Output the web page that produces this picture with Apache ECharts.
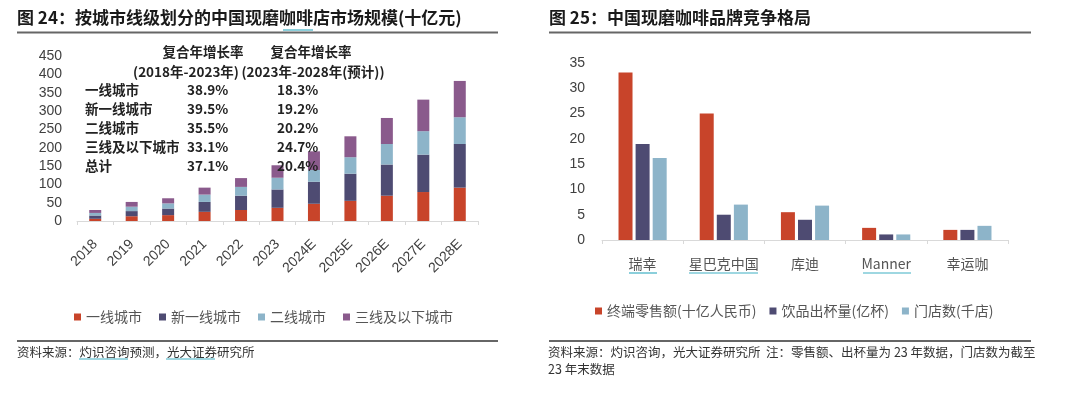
<!DOCTYPE html>
<html>
<head>
<meta charset="utf-8">
<script src="https://cdn.jsdelivr.net/npm/echarts@6/dist/echarts.min.js"></script>
<style>
html,body{margin:0;padding:0;background:#fff;}
#chart{width:1080px;height:398px;}
</style>
</head>
<body>
<div id="chart"></div>
<script>
// ---- Left chart data (十亿元) ----
const years = ['2018','2019','2020','2021','2022','2023','2024E','2025E','2026E','2027E','2028E'];
const tierNames = ['一线城市','新一线城市','二线城市','三线及以下城市'];
const tier1 =    [6, 13, 16, 25, 30, 36, 47, 55, 69, 79, 91];
const newTier1 = [9, 14, 18, 27, 39, 50, 60, 74, 85, 102, 119];
const tier2 =    [7, 12, 14, 20, 24, 32, 32, 45, 56, 64, 73];
const tier3 =    [8, 13, 14, 19, 24, 34, 51, 57, 71, 86, 99];
const leftTicks = [0, 450, 50]; // min, max, interval

// CAGR annotation table
const cagrHeaders = ['复合年增长率', '复合年增长率'];
const cagrPeriods = ['(2018年-2023年)', '(2023年-2028年(预计))'];
const cagrRows = ['一线城市','新一线城市','二线城市','三线及以下城市','总计'];
const cagr1823 = ['38.9%','39.5%','35.5%','33.1%','37.1%'];
const cagr2328 = ['18.3%','19.2%','20.2%','24.7%','20.4%'];

// ---- Right chart data ----
const brands = ['瑞幸','星巴克中国','库迪','Manner','幸运咖'];
const brandSeriesNames = ['终端零售额(十亿人民币)','饮品出杯量(亿杯)','门店数(千店)'];
const retailSales = [33.1, 25.0, 5.5, 2.4, 2.0];
const cupsSold =    [19.0, 5.0, 4.0, 1.1, 2.0];
const storeCount =  [16.2, 7.0, 6.8, 1.1, 2.8];
const rightTicks = [0, 35, 5];

// ---- Texts ----
const title24 = '图 24：按城市线级划分的中国现磨咖啡店市场规模(十亿元)';
const title25 = '图 25：中国现磨咖啡品牌竞争格局';
const source24 = '资料来源：灼识咨询预测，光大证券研究所';
const source25a = '资料来源：灼识咨询，光大证券研究所  注：零售额、出杯量为 23 年数据，门店数为截至';
const source25b = '23 年末数据';

const C_RED = '#C8442A', C_DARK = '#4E4B72', C_LIGHT = '#8DB4C9', C_PURPLE = '#8A5A8C';
const CJK = '"Noto Sans CJK SC", "Noto Sans", sans-serif';
const LAT = '"Liberation Sans", Arial, sans-serif';

const chart = echarts.init(document.getElementById('chart'), null, {renderer: 'canvas'});

const leftData = [tier1, newTier1, tier2, tier3];
const leftColors = [C_RED, C_DARK, C_LIGHT, C_PURPLE];
const rightData = [retailSales, cupsSold, storeCount];
const rightColors = [C_RED, C_DARK, C_LIGHT];

const series = [];
leftData.forEach((d, i) => {
  series.push({
    name: tierNames[i], type: 'bar', stack: 'city', xAxisIndex: 0, yAxisIndex: 0,
    data: d, barWidth: 12, itemStyle: {color: leftColors[i]}, emphasis: {disabled: true}
  });
});
rightData.forEach((d, i) => {
  series.push({
    name: brandSeriesNames[i], type: 'bar', xAxisIndex: 1, yAxisIndex: 1,
    data: d, barWidth: 14, barGap: '22%', itemStyle: {color: rightColors[i]}, emphasis: {disabled: true}
  });
});

// Graphic elements: titles, rules, annotation table, sources
const graphics = [];
function txt(x, y, s, opt) {
  graphics.push({
    type: 'text', x: x, y: y, z: 100, silent: true,
    style: Object.assign({text: s, fill: '#222', font: '13px ' + CJK, textAlign: 'left', textVerticalAlign: 'middle'}, opt || {})
  });
}
function rule(x1, x2, y, w, c) {
  graphics.push({type: 'line', z: 100, silent: true, shape: {x1: x1, y1: y, x2: x2, y2: y}, style: {stroke: c, lineWidth: w}});
}
function uline(x1, x2, y) {
  graphics.push({type: 'line', z: 100, silent: true, shape: {x1: x1, y1: y, x2: x2, y2: y}, style: {stroke: '#3FB0C4', lineWidth: 1.2}});
}
txt(17, 18, title24, {font: 'bold 17px ' + CJK, fill: '#1a1a1a'});
txt(549, 18, title25, {font: 'bold 17px ' + CJK, fill: '#1a1a1a'});
rule(17, 498, 32.5, 2, '#666');
rule(549, 1031, 32.5, 2, '#666');
rule(17, 498, 341, 1.5, '#333');
rule(549, 1031, 341, 1.5, '#333');
txt(17, 352, source24, {font: '12.5px ' + CJK, fill: '#333'});
txt(548, 352, source25a, {font: '12.5px ' + CJK, fill: '#333'});
txt(548, 369, source25b, {font: '12.5px ' + CJK, fill: '#333'});
// spell-check style underlines in the original
uline(283, 313, 30);
uline(79, 128, 359);
uline(166, 215, 359);
uline(629, 657, 273);
uline(689, 758, 273);
uline(863, 911, 273);

// CAGR table
const annFont = 'bold 13.5px ' + CJK;
txt(203, 52, cagrHeaders[0], {font: annFont, textAlign: 'center'});
txt(311, 52, cagrHeaders[1], {font: annFont, textAlign: 'center'});
txt(186, 72, cagrPeriods[0], {font: annFont, textAlign: 'center'});
txt(313, 72, cagrPeriods[1], {font: annFont, textAlign: 'center'});
cagrRows.forEach((r, i) => {
  const y = 89.5 + i * 19.1;
  txt(85, y, r, {font: annFont});
  txt(187, y, cagr1823[i], {font: annFont});
  txt(277, y, cagr2328[i], {font: annFont});
});

const option = {
  animation: false,
  backgroundColor: '#fff',
  grid: [
    {left: 77, width: 401, top: 56, bottom: 177, outerBoundsMode: 'none', containLabel: false},
    {left: 602, width: 406, top: 63, bottom: 158, outerBoundsMode: 'none', containLabel: false}
  ],
  legend: [
    {
      data: tierNames, left: 69, top: 305, icon: 'rect', itemWidth: 7, itemHeight: 7, itemGap: 17,
      textStyle: {fontSize: 14, color: '#555', fontFamily: CJK}, selectedMode: false
    },
    {
      data: brandSeriesNames, left: 590, top: 299, icon: 'rect', itemWidth: 7, itemHeight: 7, itemGap: 13,
      textStyle: {fontSize: 14, color: '#555', fontFamily: CJK}, selectedMode: false
    }
  ],
  xAxis: [
    {
      type: 'category', gridIndex: 0, data: years,
      axisLine: {show: true, lineStyle: {color: '#D9D9D9', width: 1}},
      axisTick: {show: true, length: 4, lineStyle: {color: '#D9D9D9'}},
      axisLabel: {rotate: 45, fontSize: 14, color: '#404040', fontFamily: LAT, margin: 21, interval: 0}
    },
    {
      type: 'category', gridIndex: 1, data: brands,
      axisLine: {show: true, lineStyle: {color: '#D9D9D9', width: 1}},
      axisTick: {show: true, length: 4, lineStyle: {color: '#D9D9D9'}},
      axisLabel: {fontSize: 14, color: '#555', fontFamily: CJK, margin: 17, interval: 0}
    }
  ],
  yAxis: [
    {
      type: 'value', gridIndex: 0, min: leftTicks[0], max: leftTicks[1], interval: leftTicks[2],
      axisLine: {show: false}, axisTick: {show: false}, splitLine: {show: false},
      axisLabel: {fontSize: 14, color: '#404040', fontFamily: LAT, margin: 15}
    },
    {
      type: 'value', gridIndex: 1, min: rightTicks[0], max: rightTicks[1], interval: rightTicks[2],
      axisLine: {show: false}, axisTick: {show: false}, splitLine: {show: false},
      axisLabel: {fontSize: 14, color: '#404040', fontFamily: LAT, margin: 17}
    }
  ],
  series: series,
  graphic: {elements: graphics}
};
chart.setOption(option);
</script>
</body>
</html>
